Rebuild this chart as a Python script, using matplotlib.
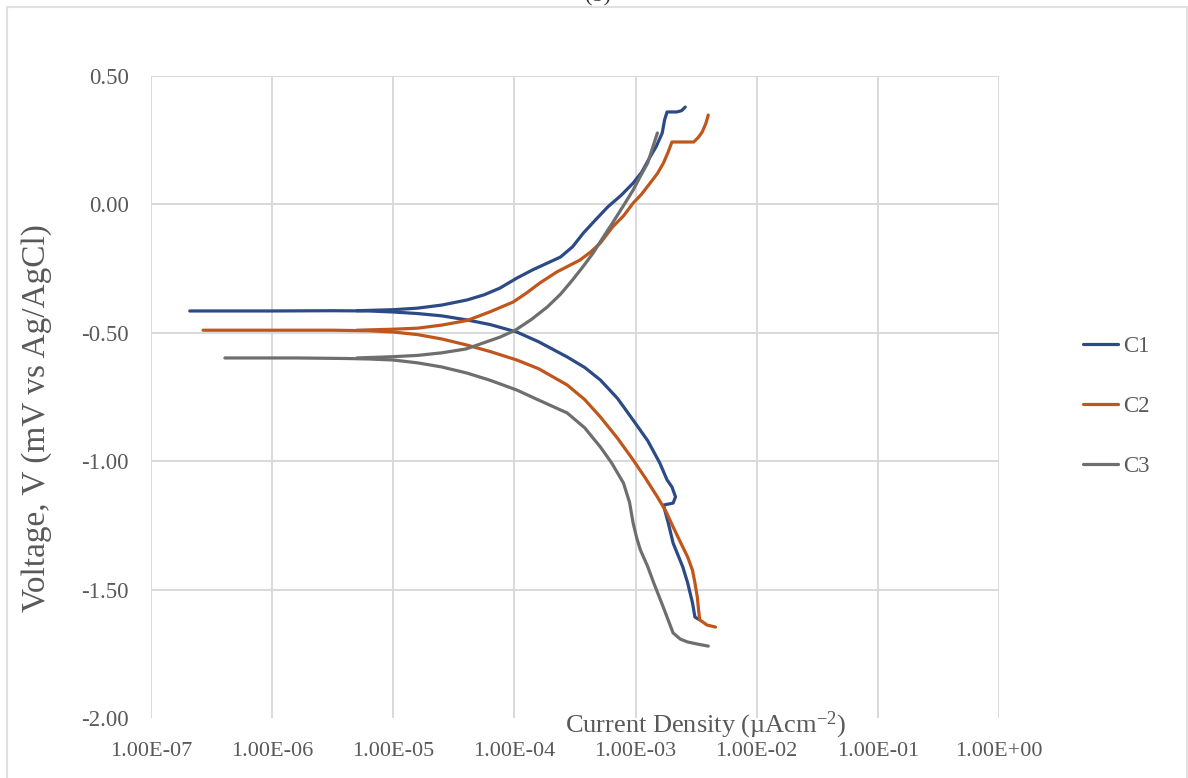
import numpy as np
import matplotlib
matplotlib.use("Agg")
import matplotlib.pyplot as plt
from matplotlib.ticker import FixedLocator, FuncFormatter

plt.rcParams['font.family'] = ['Liberation Serif', 'DejaVu Serif']
plt.rcParams['mathtext.default'] = 'regular'

# Tafel polarisation data: log10(current density) vs voltage
# C1 cathodic branch (incl. the flat start) and anodic branch
c1_log_i = [-6.68, -6.0, -5.5, -5.2, -5.0, -4.8, -4.6, -4.39, -4.2, -3.98, -3.8, -3.565,
            -3.42, -3.29, -3.15, -3.02, -2.90, -2.80, -2.74, -2.70, -2.67, -2.69, -2.77,
            -2.73, -2.69, -2.61, -2.57, -2.53, -2.51, -2.47]
c1_v = [-0.415, -0.415, -0.414, -0.415, -0.419, -0.425, -0.434, -0.450, -0.468, -0.497, -0.535, -0.594,
        -0.635, -0.684, -0.755, -0.840, -0.920, -1.007, -1.073, -1.100, -1.139, -1.163, -1.171,
        -1.241, -1.319, -1.412, -1.474, -1.552, -1.607, -1.618]
c1_an_log_i = [-5.3, -5.0, -4.8, -4.6, -4.39, -4.25, -4.12, -3.98, -3.85, -3.62, -3.52, -3.43,
               -3.33, -3.23, -3.12, -3.02, -2.95, -2.88, -2.83, -2.78, -2.76, -2.74, -2.66,
               -2.62, -2.59]
c1_an_v = [-0.414, -0.410, -0.404, -0.392, -0.372, -0.352, -0.326, -0.287, -0.255, -0.205, -0.165, -0.111,
           -0.060, -0.010, 0.035, 0.083, 0.125, 0.185, 0.225, 0.278, 0.330, 0.360, 0.360,
           0.365, 0.379]

# C2
c2_log_i = [-6.57, -6.0, -5.5, -5.2, -5.0, -4.8, -4.6, -4.39, -4.2, -3.98, -3.8, -3.565,
            -3.42, -3.29, -3.15, -3.02, -2.92, -2.82, -2.75, -2.69, -2.63, -2.57, -2.53,
            -2.51, -2.49, -2.48, -2.47, -2.41, -2.34]
c2_v = [-0.490, -0.490, -0.490, -0.492, -0.497, -0.507, -0.524, -0.548, -0.573, -0.606, -0.640, -0.703,
        -0.760, -0.828, -0.910, -0.995, -1.065, -1.139, -1.195, -1.256, -1.315, -1.373, -1.425,
        -1.474, -1.530, -1.579, -1.618, -1.638, -1.646]
c2_an_log_i = [-5.3, -5.0, -4.8, -4.6, -4.39, -4.2, -4.01, -3.9, -3.79, -3.65, -3.46, -3.37,
               -3.29, -3.19, -3.10, -3.02, -2.95, -2.88, -2.82, -2.77, -2.73, -2.70, -2.52,
               -2.48, -2.45, -2.42, -2.40]
c2_an_v = [-0.490, -0.486, -0.482, -0.470, -0.452, -0.418, -0.380, -0.345, -0.306, -0.263, -0.217, -0.185,
           -0.150, -0.088, -0.045, 0.005, 0.040, 0.083, 0.120, 0.161, 0.205, 0.243, 0.243,
           0.262, 0.282, 0.315, 0.348]

# C3
c3_log_i = [-6.39, -5.8, -5.4, -5.2, -5.0, -4.8, -4.6, -4.39, -4.2, -3.98, -3.8, -3.565,
            -3.42, -3.29, -3.20, -3.10, -3.05, -3.02, -2.99, -2.96, -2.90, -2.85, -2.77,
            -2.69, -2.63, -2.57, -2.48, -2.40]
c3_v = [-0.598, -0.598, -0.600, -0.602, -0.606, -0.617, -0.633, -0.657, -0.685, -0.723, -0.762, -0.812,
        -0.870, -0.945, -1.005, -1.085, -1.160, -1.241, -1.300, -1.346, -1.410, -1.474, -1.570,
        -1.669, -1.693, -1.704, -1.713, -1.720]
c3_an_log_i = [-5.3, -5.0, -4.8, -4.6, -4.4, -4.26, -4.12, -3.99, -3.86, -3.73, -3.62, -3.52,
               -3.43, -3.35, -3.27, -3.19, -3.10, -3.02, -2.96, -2.90, -2.86, -2.82]
c3_an_v = [-0.598, -0.593, -0.588, -0.578, -0.563, -0.540, -0.517, -0.489, -0.448, -0.400, -0.350, -0.294,
           -0.240, -0.189, -0.130, -0.072, -0.005, 0.056, 0.110, 0.161, 0.220, 0.278]

series = [
    ("C1", c1_log_i, c1_v, c1_an_log_i, c1_an_v, "#2b4a86"),
    ("C2", c2_log_i, c2_v, c2_an_log_i, c2_an_v, "#c0561b"),
    ("C3", c3_log_i, c3_v, c3_an_log_i, c3_an_v, "#6e6e6e"),
]

x_ticks = [1e-7, 1e-6, 1e-5, 1e-4, 1e-3, 1e-2, 1e-1, 1e0]
y_ticks = [0.5, 0.0, -0.5, -1.0, -1.5, -2.0]
txt = "#595959"
grid_c = "#d9d9d9"

fig = plt.figure(figsize=(11.88, 7.78), dpi=100)
ax = fig.add_axes([151 / 1188, 1 - 718 / 778, 848 / 1188, 642 / 778])

for name, li, v, lia, va, col in series:
    ax.plot(10 ** np.array(li), v, color=col, lw=2.3, label=name,
            solid_capstyle='round', solid_joinstyle='round')
    ax.plot(10 ** np.array(lia), va, color=col, lw=2.3,
            solid_capstyle='round', solid_joinstyle='round')

ax.set_xscale('log')
ax.set_xlim(1e-7, 1e0)
ax.set_ylim(-2.0, 0.5)
ax.xaxis.set_major_locator(FixedLocator(x_ticks))
ax.xaxis.set_minor_locator(FixedLocator([]))
ax.xaxis.set_major_formatter(FuncFormatter(lambda x, p: "%.2E" % x))
ax.yaxis.set_major_locator(FixedLocator(y_ticks))
ax.yaxis.set_major_formatter(FuncFormatter(lambda y, p: "%.2f" % y))

# grid lines (no line along the -2.00 edge)
for xt in x_ticks:
    ax.axvline(xt, color=grid_c, lw=1.4, zorder=0)
for yt in y_ticks[:-1]:
    ax.axhline(yt, color=grid_c, lw=1.4, zorder=0)
for s in ax.spines.values():
    s.set_visible(False)

ax.tick_params(axis='x', length=0, colors=txt, labelsize=16, pad=17)
ax.tick_params(axis='y', length=0, colors=txt, labelsize=16.5, pad=16)

ax.set_xlabel("Current Density (µAcm$^{-2}$)", fontsize=19, color=txt)
ax.xaxis.set_label_coords((706 - 151) / 848, (718 - 725) / 642)
ax.xaxis.label.set_va('center')
ax.set_ylabel("Voltage, V (mV vs Ag/AgCl)", fontsize=24, color=txt)
ax.yaxis.set_label_coords((37 - 151) / 848, (718 - 418) / 642)
ax.yaxis.label.set_va('center')

leg = fig.legend(loc='center left', bbox_to_anchor=(1062 / 1188, 1 - 406 / 778),
                 frameon=False, fontsize=16.5, handlelength=1.55, handletextpad=0.2,
                 labelspacing=1.7, labelcolor=txt)

# chart border and clipped panel label
fig.add_artist(plt.Rectangle((7 / 1188, -0.01), 1180 / 1188, 1 - 7 / 778 + 0.01,
                             transform=fig.transFigure, fill=False, ec="#e0e0e0", lw=1.5))
fig.text(598 / 1188, 1 - 6 / 778, "(b)", ha='center', va='bottom', fontsize=16, color="#333333")

fig.savefig("out.png", dpi=100)
